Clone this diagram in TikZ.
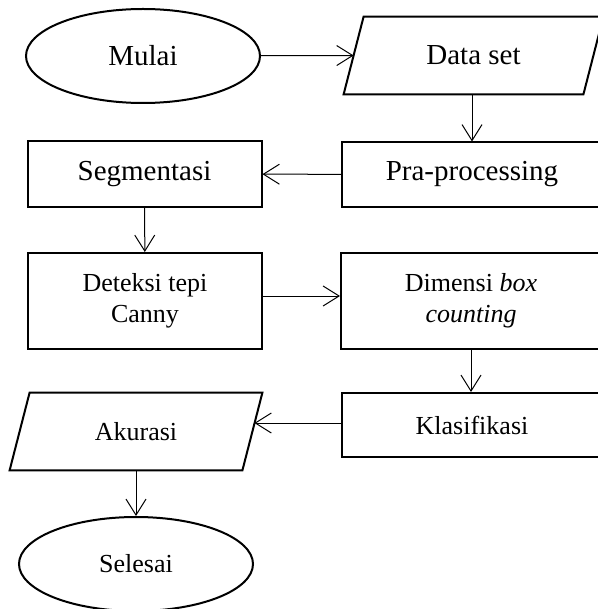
\documentclass[tikz,border=0pt]{standalone}
\usepackage{fontspec}
\setmainfont{Liberation Serif}
\usetikzlibrary{shapes.geometric, arrows.meta}

\begin{document}
\begin{tikzpicture}[x=0.5pt, y=-0.5pt,
    bigtxt/.style={font=\fontsize{14.5}{17}\selectfont},
    smalltxt/.style={font=\fontsize{13}{15.5}\selectfont},
    termbox/.style={ellipse, draw, line width=1pt, minimum width=117pt, minimum height=47pt, inner sep=1pt},
    iobox/.style={rectangle, minimum width=#1, minimum height=38.5pt, inner sep=1pt},
    ioline/.style={line width=1pt},
    procbox/.style={rectangle, draw, line width=1pt, minimum width=#1, align=center, inner sep=2pt},
    farr/.style={-{Straight Barb[length=8pt, width=10pt]}, line width=0.5pt}
  ]
  \useasboundingbox (0,0) rectangle (598,609);
  \clip (0,0) rectangle (598,609);

  \node[termbox, bigtxt] (mulai) at (143,56) {Mulai};
  \node[iobox=129.5pt, bigtxt] (data) at (473.5,55.5) {Data set};
  \node[procbox=130pt, minimum height=32pt, bigtxt] (pra) at (472,174.5) {Pra-processing};
  \node[procbox=117pt, minimum height=33pt, bigtxt] (segm) at (144.5,174) {Segmentasi};
  \node[procbox=117pt, minimum height=48pt, smalltxt] (deteksi) at (145,301) {Deteksi tepi\\Canny};
  \node[procbox=130pt, minimum height=48pt, smalltxt] (dimensi) at (471,301) {Dimensi \textit{box}\\\textit{counting}};
  \node[procbox=130pt, minimum height=32pt, smalltxt] (klas) at (472,425) {Klasifikasi};
  \node[iobox=126pt, smalltxt] (akurasi) at (136,431.5) {Akurasi};
  \node[termbox, smalltxt] (selesai) at (136,564) {Selesai};

  % parallelogram outlines
  \draw[ioline] ([xshift=10pt]data.north west) -- (data.north east) -- ([xshift=-10pt]data.south east) -- (data.south west) -- cycle;
  \draw[ioline] ([xshift=10pt]akurasi.north west) -- (akurasi.north east) -- ([xshift=-10pt]akurasi.south east) -- (akurasi.south west) -- cycle;

  \draw[farr] (mulai) -- ([xshift=5pt]data.west);
  \draw[farr] (data.south -| pra.north) -- (pra.north);
  \draw[farr] (pra) -- (segm);
  \draw[farr] (segm) -- (deteksi);
  \draw[farr] ([yshift=2.5pt]deteksi.east) -- ([yshift=2.5pt]dimensi.west);
  \draw[farr] (dimensi.south) -- (dimensi.south |- klas.north);
  \draw[farr] ([yshift=1pt]klas.west) -- ([xshift=-4pt, yshift=4.25pt]akurasi.east);
  \draw[farr] (akurasi.south) -- (selesai.north);
\end{tikzpicture}
\end{document}
